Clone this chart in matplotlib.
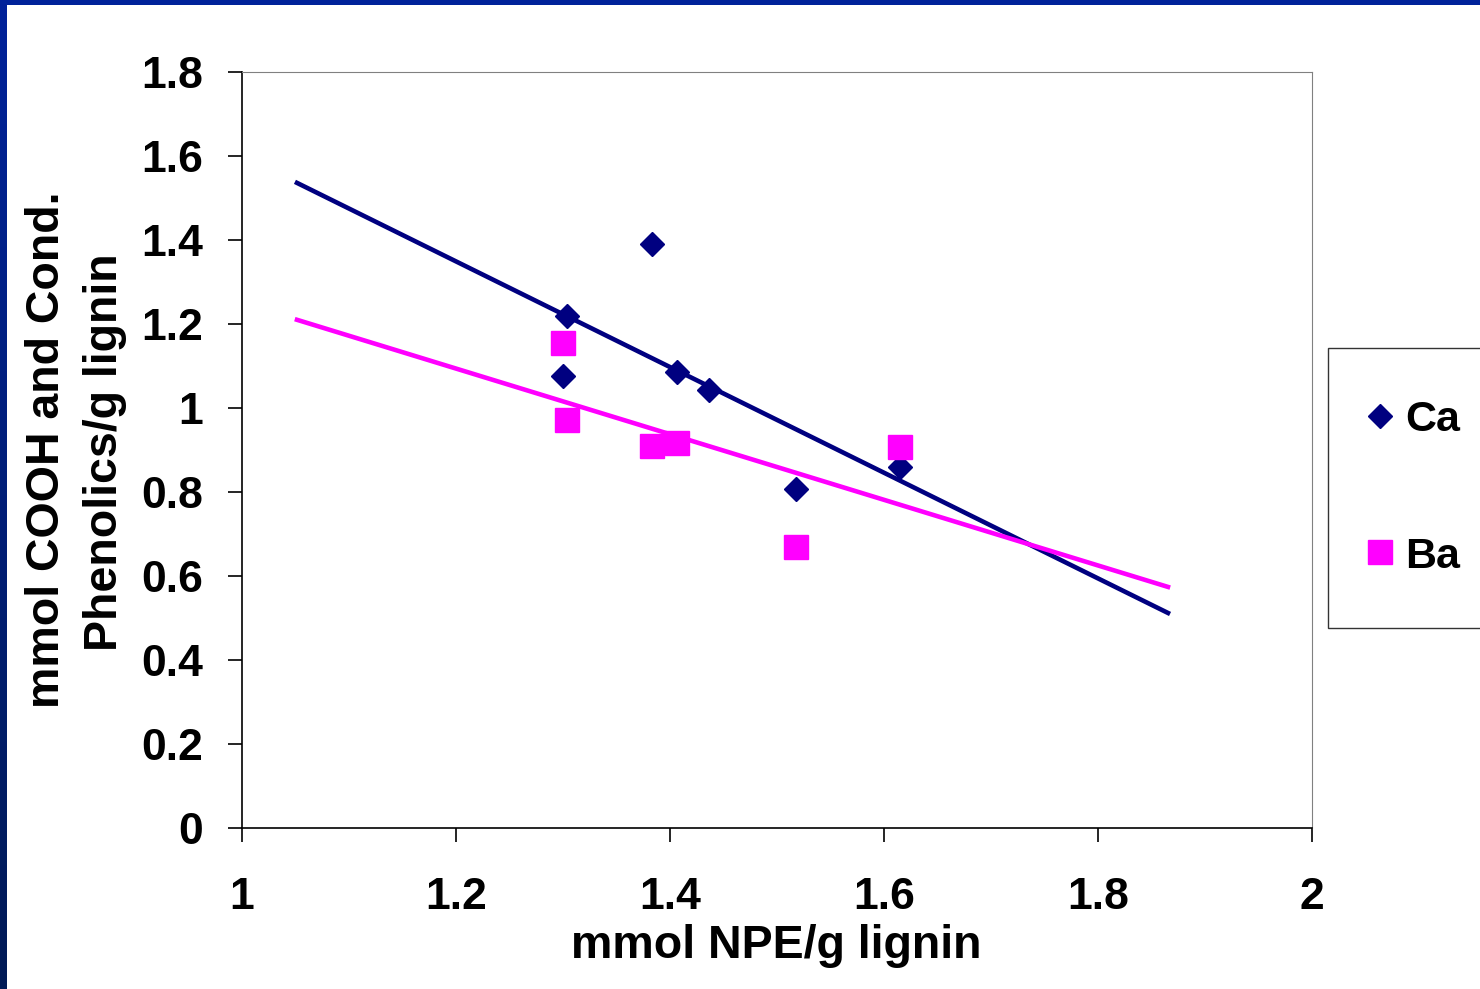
import numpy as np
import matplotlib
matplotlib.use("Agg")
import matplotlib.pyplot as plt
from matplotlib.lines import Line2D
from matplotlib.colors import LinearSegmentedColormap

plt.rcParams['font.family'] = ['Liberation Sans', 'DejaVu Sans']
plt.rcParams['font.weight'] = 'bold'

# data
ca_x = [1.304, 1.300, 1.383, 1.407, 1.436, 1.518, 1.615]
ca_y = [1.219, 1.076, 1.390, 1.086, 1.043, 0.807, 0.860]
ba_x = [1.300, 1.304, 1.383, 1.407, 1.518, 1.615]
ba_y = [1.155, 0.971, 0.910, 0.917, 0.669, 0.907]
trend_x = [1.0514, 1.8654]
ca_trend_y = [1.536, 0.512]
ba_trend_y = [1.210, 0.574]
x_ticks = [1, 1.2, 1.4, 1.6, 1.8, 2]
x_ticklabels = ['1', '1.2', '1.4', '1.6', '1.8', '2']
y_ticks = [0, 0.2, 0.4, 0.6, 0.8, 1, 1.2, 1.4, 1.6, 1.8]
y_ticklabels = ['0', '0.2', '0.4', '0.6', '0.8', '1', '1.2', '1.4', '1.6', '1.8']
navy = '#000080'
magenta = '#FF00FF'

W, H = 1480, 989
fig = plt.figure(figsize=(W / 100, H / 100), dpi=100)
fig.patch.set_facecolor('white')

# border (top and left blue bars)
top_ax = fig.add_axes([0, 1 - 5 / H, 1, 5 / H])
top_ax.set_facecolor('#00229A')
top_ax.set_xticks([]); top_ax.set_yticks([])
for s in top_ax.spines.values():
    s.set_visible(False)
left_ax = fig.add_axes([0, 0, 7 / W, 1])
cmap = LinearSegmentedColormap.from_list('b', ['#001A55', '#00229A'])
left_ax.imshow(np.linspace(0, 1, 256).reshape(-1, 1), aspect='auto', cmap=cmap, origin='lower')
left_ax.set_xticks([]); left_ax.set_yticks([])
for s in left_ax.spines.values():
    s.set_visible(False)

ax = fig.add_axes([242 / W, 1 - 828 / H, (1312 - 242) / W, (828 - 72) / H])
ax.plot(trend_x, ca_trend_y, color=navy, lw=3.3, zorder=2)
ax.plot(trend_x, ba_trend_y, color=magenta, lw=3.3, zorder=2)
ax.plot(ca_x, ca_y, linestyle='none', marker='D', color=navy, markersize=12, zorder=3)
ax.plot(ba_x, ba_y, linestyle='none', marker='s', color=magenta, markersize=17, zorder=3)

ax.set_xlim(1, 2)
ax.set_ylim(0, 1.8)
ax.set_xticks(x_ticks)
ax.set_xticklabels(x_ticklabels)
ax.set_yticks(y_ticks)
ax.set_yticklabels(y_ticklabels)
ax.tick_params(axis='both', direction='out', length=10, width=1.2, labelsize=32, color='black')
ax.tick_params(axis='y', pad=18)
ax.tick_params(axis='x', pad=25)
for lab in ax.get_xticklabels() + ax.get_yticklabels():
    lab.set_fontweight('bold')
ax.spines['left'].set_color('black')
ax.spines['bottom'].set_color('black')
ax.spines['left'].set_linewidth(1.2)
ax.spines['bottom'].set_linewidth(1.2)
ax.spines['top'].set_color('#808080')
ax.spines['right'].set_color('#808080')

fig.text(776 / W, 1 - 946 / H, 'mmol NPE/g lignin', ha='center', va='center',
         fontsize=33.5, fontweight='bold')
fig.text(47 / W, 1 - 450 / H, 'mmol COOH and Cond.', rotation=90, ha='center', va='center',
         fontsize=33.5, fontweight='bold')
fig.text(105 / W, 1 - 452 / H, 'Phenolics/g lignin', rotation=90, ha='center', va='center',
         fontsize=33.5, fontweight='bold')

handles = [Line2D([], [], linestyle='none', marker='D', color=navy, markersize=12),
           Line2D([], [], linestyle='none', marker='s', color=magenta, markersize=17)]
leg = fig.legend(handles, ['Ca', 'Ba'], loc='upper left',
                 bbox_to_anchor=(1328 / W, 1 - 348 / H), frameon=True, fancybox=False,
                 prop={'size': 31, 'weight': 'bold'}, borderpad=1.2, labelspacing=2.25,
                 handletextpad=0.6, handlelength=0.0, borderaxespad=0)
leg.get_frame().set_edgecolor('black')
leg.get_frame().set_linewidth(1.0)

fig.savefig('out.png', dpi=100, facecolor='white')
